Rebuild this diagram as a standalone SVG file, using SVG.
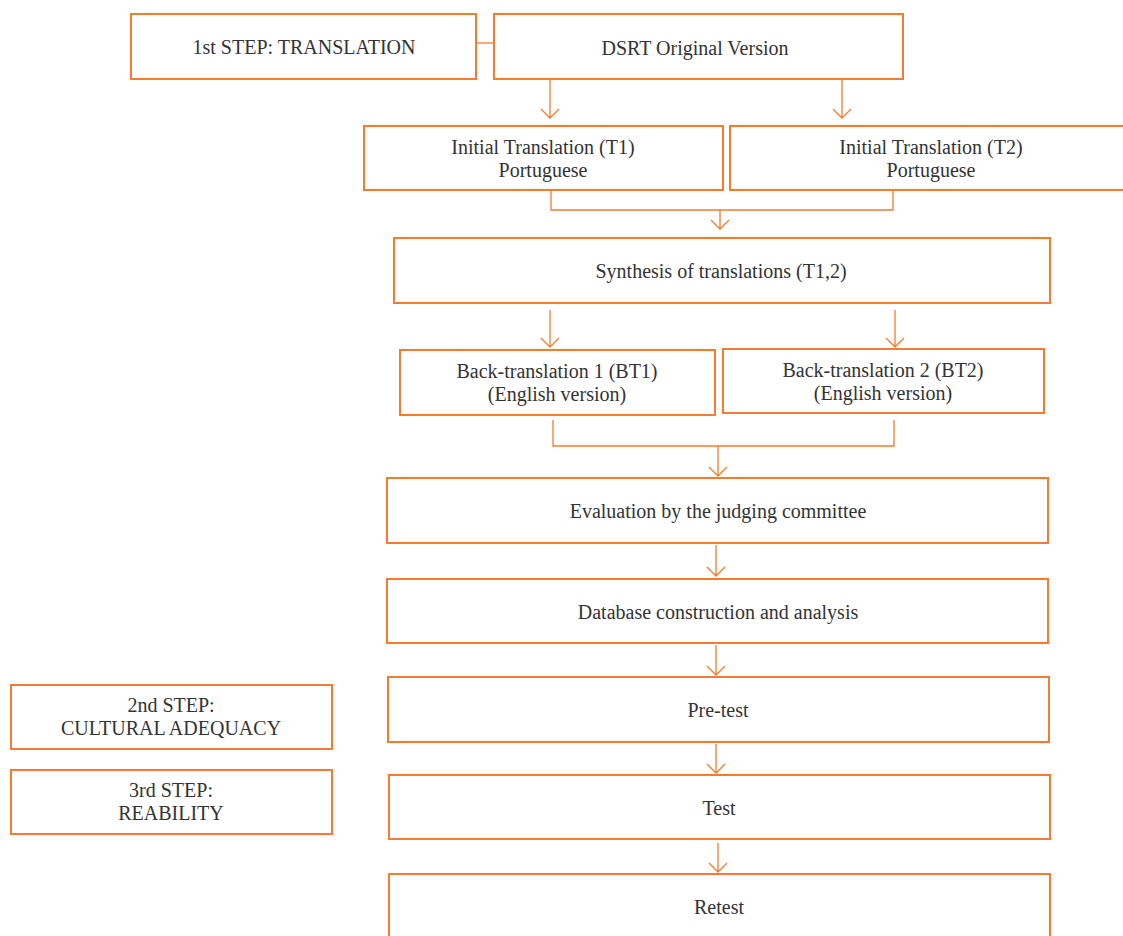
<svg xmlns="http://www.w3.org/2000/svg" width="1123" height="936" viewBox="0 0 1123 936">
<defs>
<style>
.box{fill:#fff;stroke:#F47B30;stroke-width:2}
.t{font-family:"Liberation Serif","DejaVu Serif",serif;font-size:20px;fill:#333;text-anchor:middle}
.c{fill:none;stroke:#F47B30;stroke-width:1.3}
</style>
</defs>
<rect width="1123" height="936" fill="#fff"/>
<g id="connectors">
<path class="c" d="M476 43H494"/>
<path class="c" d="M550 80V118M541 109L550 118L559 109"/>
<path class="c" d="M842 80V118M833 109L842 118L851 109"/>
<path class="c" d="M551 191V210H893V191"/>
<path class="c" d="M720 210V229M711 220L720 229L729 220"/>
<path class="c" d="M550 310V347M541 338L550 347L559 338"/>
<path class="c" d="M895 310V347M886 338L895 347L904 338"/>
<path class="c" d="M553 420V446H894V420"/>
<path class="c" d="M718 446V476M709 467L718 476L727 467"/>
<path class="c" d="M716 545V576M707 567L716 576L725 567"/>
<path class="c" d="M716 645V675M707 666L716 675L725 666"/>
<path class="c" d="M716 744V773M707 764L716 773L725 764"/>
<path class="c" d="M718 843V872M709 863L718 872L727 863"/>
</g>
<g id="step1"><rect class="box" x="131" y="14" width="345" height="65"/><text class="t" x="304" y="54">1st STEP: TRANSLATION</text></g>
<g id="dsrt"><rect class="box" x="494" y="14" width="409" height="65"/><text class="t" x="695" y="55">DSRT Original Version</text></g>
<g id="t1"><rect class="box" x="364" y="126" width="359" height="64"/><text class="t" x="543" y="154">Initial Translation (T1)</text><text class="t" x="543" y="177">Portuguese</text></g>
<g id="t2"><rect class="box" x="730" y="126" width="400" height="64"/><text class="t" x="931" y="154">Initial Translation (T2)</text><text class="t" x="931" y="177">Portuguese</text></g>
<g id="synthesis"><rect class="box" x="394" y="238" width="656" height="65"/><text class="t" x="721" y="278">Synthesis of translations (T1,2)</text></g>
<g id="bt1"><rect class="box" x="400" y="350" width="315" height="65"/><text class="t" x="557" y="378">Back-translation 1 (BT1)</text><text class="t" x="557" y="401">(English version)</text></g>
<g id="bt2"><rect class="box" x="723" y="349" width="321" height="64"/><text class="t" x="883" y="377">Back-translation 2 (BT2)</text><text class="t" x="883" y="400">(English version)</text></g>
<g id="evaluation"><rect class="box" x="387" y="478" width="661" height="65"/><text class="t" x="718" y="518">Evaluation by the judging committee</text></g>
<g id="database"><rect class="box" x="387" y="579" width="661" height="64"/><text class="t" x="718" y="619">Database construction and analysis</text></g>
<g id="pretest"><rect class="box" x="388" y="677" width="661" height="65"/><text class="t" x="718" y="717">Pre-test</text></g>
<g id="test"><rect class="box" x="389" y="775" width="661" height="64"/><text class="t" x="719" y="815">Test</text></g>
<g id="retest"><rect class="box" x="389" y="874" width="661" height="70"/><text class="t" x="719" y="914">Retest</text></g>
<g id="step2"><rect class="box" x="11" y="685" width="321" height="64"/><text class="t" x="171" y="712">2nd STEP:</text><text class="t" x="171" y="735">CULTURAL ADEQUACY</text></g>
<g id="step3"><rect class="box" x="11" y="770" width="321" height="64"/><text class="t" x="171" y="797">3rd STEP:</text><text class="t" x="171" y="820">REABILITY</text></g>
</svg>
